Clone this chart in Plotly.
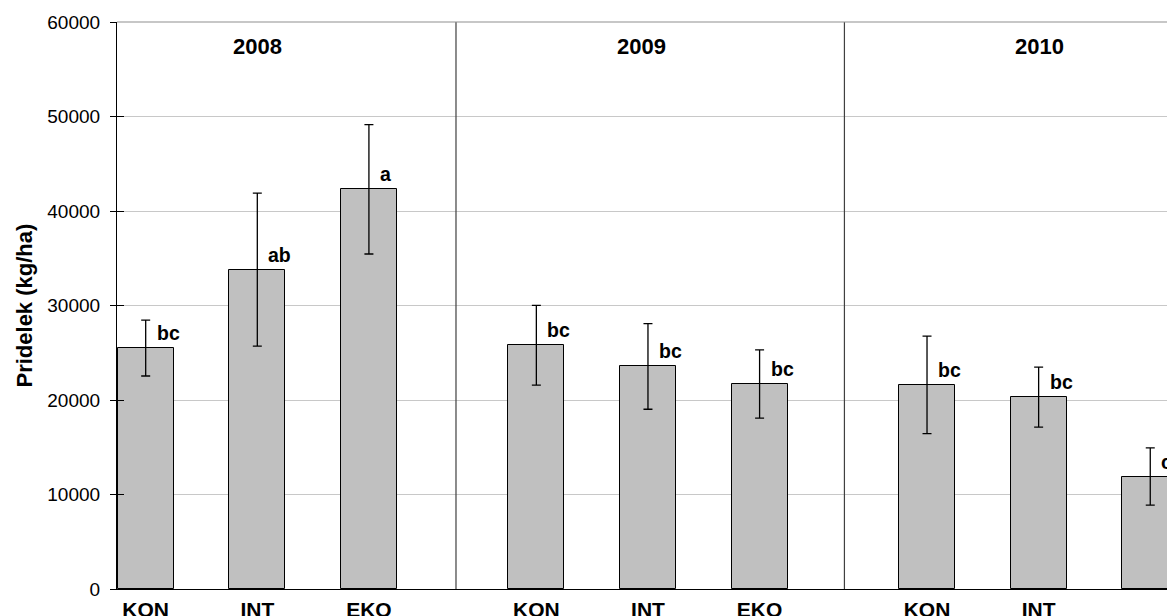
import plotly.graph_objects as go

# Yield by farming system and year
years = ["2008", "2009", "2010"]
treatments = ["KON", "INT", "EKO"]

yield_2008 = [25500, 33800, 42300]
yield_2009 = [25800, 23550, 21700]
yield_2010 = [21600, 20300, 11900]

sd_2008 = [2960, 8100, 6850]
sd_2009 = [4220, 4530, 3610]
sd_2010 = [5150, 3180, 3030]

letters_2008 = ["bc", "ab", "a"]
letters_2009 = ["bc", "bc", "bc"]
letters_2010 = ["bc", "bc", "c"]

y_ticks = [0, 10000, 20000, 30000, 40000, 50000, 60000]

yields = [yield_2008, yield_2009, yield_2010]
sds = [sd_2008, sd_2009, sd_2010]
letters = [letters_2008, letters_2009, letters_2010]

GROUP_STEP = 3.5          # distance between first bars of consecutive years
FONT = "Arial, Liberation Sans, Helvetica, sans-serif"

xs, ys, errs, labels, tick_text = [], [], [], [], []
for g, year in enumerate(years):
    for i, t in enumerate(treatments):
        xs.append(g * GROUP_STEP + i)
        ys.append(yields[g][i])
        errs.append(sds[g][i])
        labels.append(letters[g][i])
        tick_text.append(t)

fig = go.Figure()
fig.add_trace(go.Bar(
    x=xs, y=ys, width=0.5,
    marker=dict(color="#c0c0c0", line=dict(color="#000000", width=1)),
    error_y=dict(type="data", array=errs, visible=True,
                 color="#000000", thickness=1.3, width=4.5),
    showlegend=False, hoverinfo="skip",
))
# helper trace so the overlay axis (inner half of the cross ticks) is drawn
fig.add_trace(go.Scatter(x=[None], y=[None], yaxis="y2",
                         showlegend=False, hoverinfo="skip"))

annotations = []
# significance letters to the upper right of each error bar
for x, y, lab in zip(xs, ys, labels):
    annotations.append(dict(
        x=x, y=y, text=f"<b>{lab}</b>", showarrow=False,
        xanchor="left", yanchor="middle", xshift=9, yshift=15,
        font=dict(family=FONT, size=19.5, color="#000000"),
    ))
# year headings
year_shift = [0, -6, 1]
for g, year in enumerate(years):
    annotations.append(dict(
        x=g * GROUP_STEP + 1, y=57400, text=f"<b>{year}</b>", showarrow=False,
        xanchor="center", yanchor="middle", xshift=year_shift[g],
        font=dict(family=FONT, size=22, color="#000000"),
    ))
# y-axis title
annotations.append(dict(
    x=0, y=0.5, xref="paper", yref="paper", xshift=-93,
    text="<b>Pridelek (kg/ha)</b>", textangle=-90, showarrow=False,
    xanchor="center", yanchor="middle",
    font=dict(family=FONT, size=22, color="#000000"),
))

shapes = []
# vertical separators between years
for sep in [2.78, 6.26]:
    shapes.append(dict(type="line", xref="x", yref="paper",
                       x0=sep, x1=sep, y0=0, y1=1,
                       line=dict(color="#404040", width=1.2)))
# top border of the plot area
shapes.append(dict(type="line", xref="paper", yref="paper",
                   x0=0, x1=1, y0=1, y1=1,
                   line=dict(color="#909090", width=1.2)))

fig.update_layout(
    width=1167, height=616,
    margin=dict(l=117, r=0, t=22, b=27, autoexpand=False),
    paper_bgcolor="#ffffff", plot_bgcolor="#ffffff",
    font=dict(family=FONT, color="#000000"),
    bargap=0,
    xaxis=dict(
        range=[-0.257, 9.15], tickmode="array", tickvals=xs, ticktext=tick_text,
        tickfont=dict(family=FONT, size=21, color="#000000", weight="bold"),
        showgrid=False, zeroline=False, ticks="",
        showline=True, linecolor="#000000", linewidth=1.2,
        ticklabelstandoff=2, automargin=False,
    ),
    yaxis=dict(
        range=[0, 60000], tickmode="array", tickvals=y_ticks,
        ticktext=[str(v) for v in y_ticks],
        tickfont=dict(family=FONT, size=19, color="#000000"),
        showgrid=True, gridcolor="#c8c8c8", gridwidth=1,
        zeroline=False, showline=True, linecolor="#000000", linewidth=1.2,
        ticks="outside", ticklen=6, tickcolor="#000000", tickwidth=1.2,
        ticklabelstandoff=6, automargin=False,
    ),
    yaxis2=dict(
        range=[0, 60000], overlaying="y", side="left",
        tickmode="array", tickvals=y_ticks, showticklabels=False,
        ticks="inside", ticklen=7, tickcolor="#000000", tickwidth=1.2,
        showgrid=False, zeroline=False, showline=False,
    ),
    annotations=annotations,
    shapes=shapes,
)

fig.write_html("out.html")
